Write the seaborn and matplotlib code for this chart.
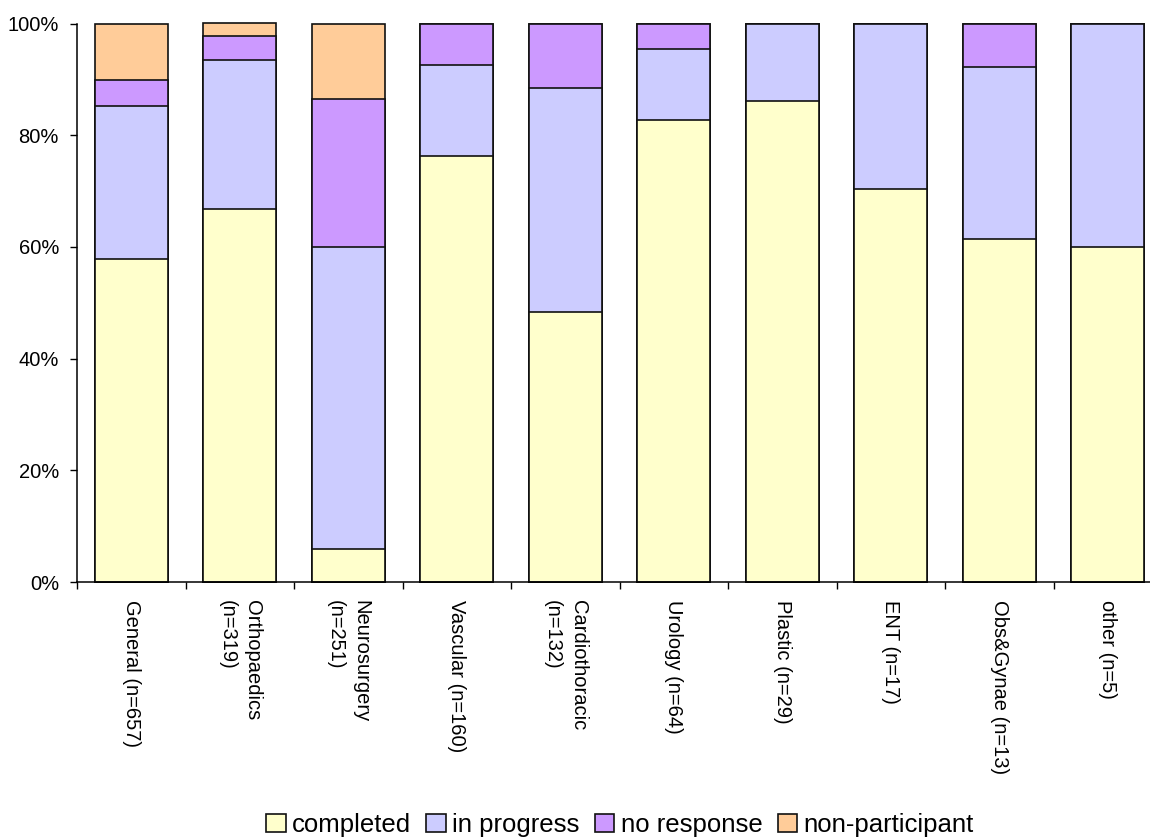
import matplotlib
matplotlib.use("Agg")
import matplotlib.pyplot as plt
from matplotlib.ticker import FixedLocator, FuncFormatter
from matplotlib.patches import Patch
import seaborn as sns
import pandas as pd

# Specialty labels (wrapped where the original breaks the line)
categories = [
    "General (n=657)",
    "Orthopaedics\n(n=319)",
    "Neurosurgery\n(n=251)",
    "Vascular (n=160)",
    "Cardiothoracic\n(n=132)",
    "Urology (n=64)",
    "Plastic (n=29)",
    "ENT (n=17)",
    "Obs&Gynae (n=13)",
    "other (n=5)",
]

# Percentage of each group by status
completed       = [57.8, 66.7,  5.9, 76.2, 48.3, 82.8, 86.2, 70.4, 61.5, 60.0]
in_progress     = [27.5, 26.7, 54.1, 16.4, 40.2, 12.6, 13.8, 29.6, 30.8, 40.0]
no_response     = [ 4.6,  4.4, 26.5,  7.4, 11.5,  4.6,  0.0,  0.0,  7.7,  0.0]
non_participant = [10.1,  2.2, 13.5,  0.0,  0.0,  0.0,  0.0,  0.0,  0.0,  0.0]

series_names = ["completed", "in progress", "no response", "non-participant"]
series_colors = ["#FFFFCC", "#CCCCFF", "#CC99FF", "#FFCC99"]
series_values = [completed, in_progress, no_response, non_participant]

sns.set_theme(style="white")
plt.rcParams["font.family"] = ["Liberation Sans", "DejaVu Sans"]
plt.rcParams["text.color"] = "black"

fig = plt.figure(figsize=(11.5, 8.39), dpi=100)
ax = fig.add_axes([77 / 1150, (839 - 582) / 839, 1085 / 1150, (582 - 23.5) / 839])

# Cumulative stacks, drawn tallest first so each lower layer overlays the one above
df = pd.DataFrame({"category": categories})
running = [0.0] * len(categories)
cums = []
for vals in series_values:
    running = [r + v for r, v in zip(running, vals)]
    cums.append(list(running))

for name, color, cum in reversed(list(zip(series_names, series_colors, cums))):
    df[name] = cum
    sns.barplot(data=df, x="category", y=name, color=color, edgecolor="#111111",
                linewidth=1.2, width=0.675, saturation=1, ax=ax)

for p in ax.patches:
    p.set_clip_on(False)

ax.set_xlim(-0.5, len(categories) - 0.5)
ax.set_ylim(0, 100)
ax.set_xlabel("")
ax.set_ylabel("")

ax.yaxis.set_major_locator(FixedLocator([0, 20, 40, 60, 80, 100]))
ax.yaxis.set_major_formatter(FuncFormatter(lambda v, _: f"{v:.0f}%"))
ax.tick_params(axis="y", which="major", left=True, length=5, width=1,
               color="black", labelsize=14.5, pad=8, labelcolor="black")

ax.set_xticks(range(len(categories)))
ax.set_xticklabels(categories, rotation=270, ha="center", va="top",
                   multialignment="left", fontsize=14.5, color="black",
                   linespacing=1.45)
ax.xaxis.set_minor_locator(FixedLocator([i - 0.5 for i in range(len(categories) + 1)]))
ax.tick_params(axis="x", which="major", bottom=False, length=0, pad=13)
ax.tick_params(axis="x", which="minor", bottom=True, length=5, width=1, color="black")

for side in ["top", "right"]:
    ax.spines[side].set_visible(False)
for side in ["left", "bottom"]:
    ax.spines[side].set_color("black")
    ax.spines[side].set_linewidth(1.1)

handles = [Patch(facecolor=c, edgecolor="#111111", linewidth=1.2, label=n)
           for n, c in zip(series_names, series_colors)]
fig.legend(handles=handles, loc="center", bbox_to_anchor=(620 / 1150, 1 - 825 / 839),
           ncol=4, frameon=False, fontsize=18.5, handlelength=0.75, handleheight=0.75,
           handletextpad=0.25, columnspacing=0.6, borderpad=0, labelcolor="black")

fig.savefig("out.png", dpi=100)
